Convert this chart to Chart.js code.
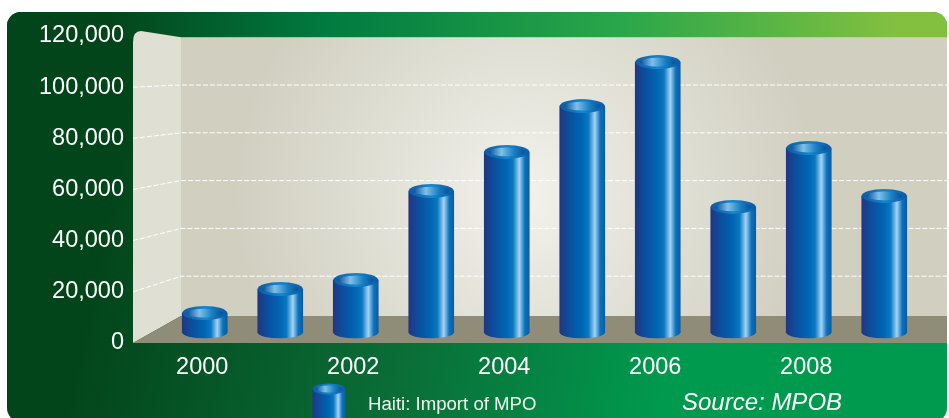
<!DOCTYPE html>
<html>
<head>
<meta charset="utf-8">
<style>
html, body { margin: 0; padding: 0; background: #fff; }
#wrap { width: 949px; height: 418px; }
</style>
<script src="https://cdn.jsdelivr.net/npm/chart.js@4"></script>
</head>
<body>
<div id="wrap"><canvas id="chart" width="949" height="418"></canvas></div>
<script>
var categories = ['2000', '2001', '2002', '2003', '2004', '2005', '2006', '2007', '2008', '2009'];
var imports = [11700, 21100, 24600, 59400, 74700, 92600, 109800, 53200, 76200, 57500];
var seriesName = 'Haiti: Import of MPO';
var sourceNote = 'Source: MPOB';
var yTicks = [0, 20000, 40000, 60000, 80000, 100000, 120000];

var FONT = '"Liberation Sans", Arial, sans-serif';
var FLOOR_VALUE = 4000;   // bars stand back from the front edge of the floor
var CAP_RY = 7;

function cylinderFill(ctx, left, right) {
    var g = ctx.createLinearGradient(left, 0, right, 0);
    g.addColorStop(0, '#23367f');
    g.addColorStop(0.22, '#0a4f9e');
    g.addColorStop(0.5, '#0066b3');
    g.addColorStop(0.64, '#0a78c2');
    g.addColorStop(0.78, '#a5d3f2');
    g.addColorStop(0.9, '#0a72bc');
    g.addColorStop(1, '#0a5ca8');
    return g;
}

function drawCap(ctx, cx, cy, w, ry) {
    var rx = w / 2;
    var g = ctx.createLinearGradient(cx - rx, 0, cx + rx, 0);
    g.addColorStop(0, '#0a5aa8');
    g.addColorStop(0.5, '#1487cc');
    g.addColorStop(1, '#0a5aa8');
    ctx.fillStyle = g;
    ctx.beginPath();
    ctx.ellipse(cx, cy, rx, ry, 0, 0, Math.PI * 2);
    ctx.fill();
    // inside of the tube
    var h = ctx.createLinearGradient(cx - rx * 0.8, 0, cx + rx * 0.8, 0);
    h.addColorStop(0, '#0a4f96');
    h.addColorStop(0.35, '#7fc0e8');
    h.addColorStop(0.7, '#1a80c4');
    h.addColorStop(1, '#0a4f96');
    ctx.fillStyle = h;
    ctx.beginPath();
    ctx.ellipse(cx, cy, rx * 0.8, ry * 0.62, 0, 0, Math.PI * 2);
    ctx.fill();
}

var scenery = {
    id: 'scenery',
    beforeDraw: function (chart) {
        var ctx = chart.ctx, y = chart.scales.y;
        var frontX = 133, backX = 181, right = 947;
        var floorBack = 316;
        function backY(v) { return 324 - v * 0.00239; }

        ctx.save();
        // green panel
        ctx.beginPath();
        ctx.roundRect(7, 12, 940, 410, 14);
        ctx.clip();
        var g = ctx.createLinearGradient(90, 300, 660, 420);
        g.addColorStop(0, '#03451b');
        g.addColorStop(0.55, '#0a6e37');
        g.addColorStop(1, '#009a4e');
        ctx.fillStyle = g;
        ctx.fillRect(7, 12, 940, 406);
        var t = ctx.createLinearGradient(110, 0, 900, 0);
        t.addColorStop(0, '#03451b');
        t.addColorStop(0.27, '#007a40');
        t.addColorStop(0.65, '#2aa74a');
        t.addColorStop(1, '#84c040');
        ctx.fillStyle = t;
        ctx.fillRect(7, 12, 940, 27);
        ctx.restore();

        // back wall
        var w = ctx.createRadialGradient(525, 195, 10, 525, 195, 290);
        w.addColorStop(0, '#f1f0ea');
        w.addColorStop(1, '#d0cfc0');
        ctx.fillStyle = w;
        ctx.fillRect(backX, backY(120000), right - backX, floorBack - backY(120000));

        // side wall
        ctx.fillStyle = '#e0dfd3';
        ctx.beginPath();
        ctx.moveTo(frontX, y.getPixelForValue(0));
        ctx.lineTo(backX, floorBack);
        ctx.lineTo(backX, backY(120000));
        ctx.lineTo(141, 31);
        ctx.quadraticCurveTo(133, 31, 133, 42);
        ctx.closePath();
        ctx.fill();

        // floor
        ctx.fillStyle = '#8f8c78';
        ctx.beginPath();
        ctx.moveTo(frontX, y.getPixelForValue(0));
        ctx.lineTo(backX, floorBack);
        ctx.lineTo(right, floorBack);
        ctx.lineTo(right, y.getPixelForValue(0));
        ctx.closePath();
        ctx.fill();

        // dashed gridlines on side wall and back wall
        ctx.strokeStyle = '#ffffff';
        ctx.lineWidth = 1;
        ctx.setLineDash([5, 2]);
        yTicks.forEach(function (v) {
            if (v === 0 || v === 120000) return;
            ctx.beginPath();
            ctx.moveTo(frontX, y.getPixelForValue(v));
            ctx.lineTo(backX, backY(v));
            ctx.lineTo(right, backY(v));
            ctx.stroke();
        });
        ctx.setLineDash([]);
    },
    afterDatasetsDraw: function (chart) {
        var ctx = chart.ctx;
        chart.getDatasetMeta(0).data.forEach(function (bar) {
            var left = bar.x - bar.width / 2, right = bar.x + bar.width / 2;
            // rounded foot
            ctx.fillStyle = cylinderFill(ctx, left, right);
            ctx.beginPath();
            ctx.ellipse(bar.x, bar.base, bar.width / 2, 5.5, 0, 0, Math.PI);
            ctx.fill();
            drawCap(ctx, bar.x, bar.y, bar.width, CAP_RY);
        });
    },
    afterDraw: function (chart) {
        var ctx = chart.ctx;
        // legend key, cut off by the bottom of the picture
        var cx = 329, w = 33;
        ctx.fillStyle = cylinderFill(ctx, cx - w / 2, cx + w / 2);
        ctx.fillRect(cx - w / 2, 389, w, 29);
        drawCap(ctx, cx, 389, w, 5.5);

        ctx.textBaseline = 'middle';
        ctx.textAlign = 'left';
        ctx.fillStyle = '#eef5ee';
        ctx.font = '18.6px ' + FONT;
        ctx.fillText(seriesName, 368, 405);
        ctx.fillStyle = '#ffffff';
        ctx.font = 'italic 24px ' + FONT;
        ctx.fillText(sourceNote, 682, 403);
    }
};

new Chart(document.getElementById('chart'), {
    type: 'bar',
    data: {
        labels: categories,
        datasets: [{
            label: seriesName,
            data: imports,
            base: FLOOR_VALUE,
            barThickness: 45,
            borderWidth: 0,
            backgroundColor: function (c) {
                var x = c.chart.scales.x ? c.chart.scales.x.getPixelForValue(c.dataIndex) : NaN;
                if (!isFinite(x)) return '#0068b5';
                return cylinderFill(c.chart.ctx, x - 22.5, x + 22.5);
            }
        }]
    },
    plugins: [scenery],
    options: {
        responsive: false,
        animation: false,
        layout: { padding: { left: 0, right: 27, top: 36, bottom: 0 } },
        plugins: {
            legend: { display: false },
            tooltip: { enabled: false }
        },
        scales: {
            x: {
                afterFit: function (s) { s.height = 75; s.paddingLeft = 0; s.paddingRight = 0; },
                grid: { display: false },
                border: { display: false },
                ticks: {
                    color: '#ffffff',
                    font: { family: FONT, size: 23.5 },
                    padding: 2,
                    labelOffset: -2.5,
                    maxRotation: 0,
                    autoSkip: false,
                    callback: function (v, i) { return i % 2 === 0 ? categories[i] : ''; }
                }
            },
            y: {
                min: 0,
                max: 120000,
                afterFit: function (s) { s.width = 167; s.paddingTop = 0; s.paddingBottom = 0; },
                afterBuildTicks: function (s) { s.ticks = yTicks.map(function (v) { return { value: v }; }); },
                grid: { display: false },
                border: { display: false },
                ticks: {
                    color: '#ffffff',
                    font: { family: FONT, size: 23.5 },
                    padding: 35,
                    callback: function (v) { return v.toLocaleString('en-US'); }
                }
            }
        }
    }
});
</script>
</body>
</html>
